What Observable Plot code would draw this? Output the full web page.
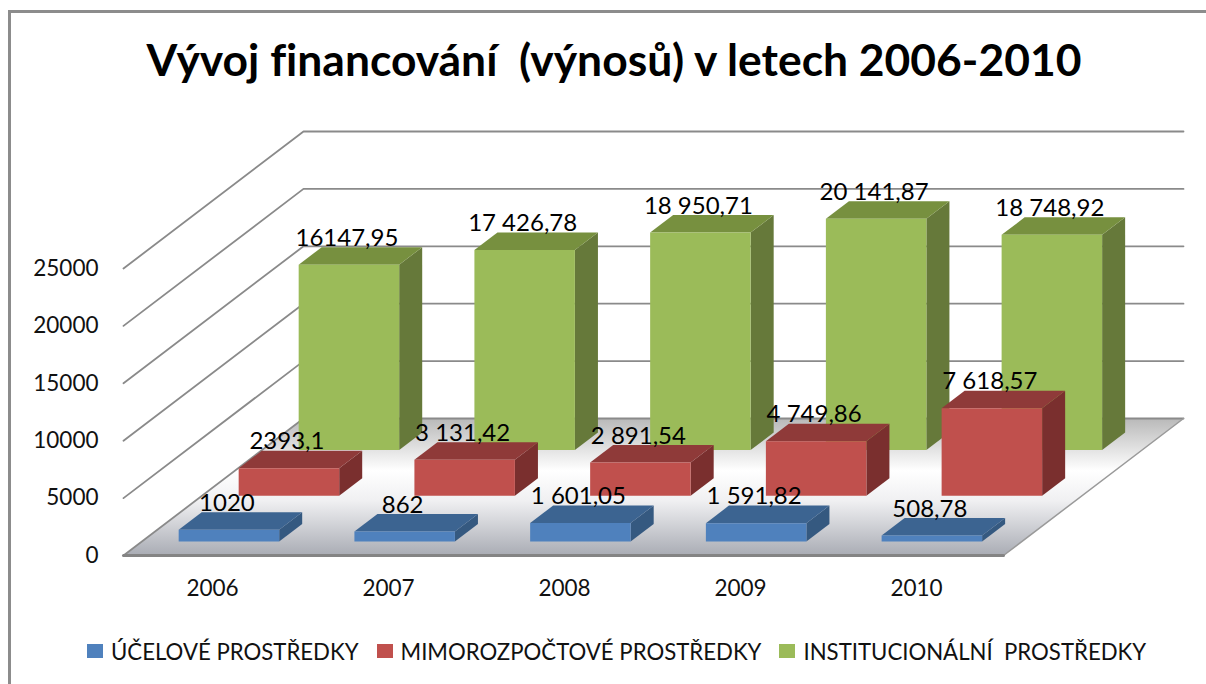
<!DOCTYPE html>
<html lang="cs">
<head>
<meta charset="utf-8">
<script src="https://cdn.jsdelivr.net/npm/d3@7"></script>
<script src="https://cdn.jsdelivr.net/npm/@observablehq/plot@0.6"></script>
<style>
  html, body { margin: 0; padding: 0; background: #fff; overflow: hidden; }
  #page { position: relative; width: 1206px; height: 684px; font-family: Lato, sans-serif; color: #000; overflow: hidden; font-variant-ligatures: none; }
  #frame { position: absolute; left: 8px; top: 10px; right: -4px; bottom: -4px; border: 3px solid #8c8c8c; box-sizing: border-box; pointer-events: none; }
  #title { height: 110px; line-height: 118px; text-align: center; font-size: 44.4px; font-weight: 700; white-space: pre; padding-left: 22px; box-sizing: border-box; }
  #chart svg { display: block; }
  #legend { position: absolute; top: 639px; left: 87px; display: flex; align-items: center; height: 24px; font-size: 22.2px; white-space: pre; color: #111; }
  #legend i { display: inline-block; width: 16px; height: 14px; margin-right: 8px; }
  #legend span { margin-right: 18px; }
</style>
</head>
<body>
<div id="page">
  <div id="title"></div>
  <div id="chart"></div>
  <div id="legend"></div>
  <div id="frame"></div>
</div>
<script>
const titleText = "Vývoj financování  (výnosů) v letech 2006-2010";
const years = ["2006", "2007", "2008", "2009", "2010"];
const seriesNames = ["ÚČELOVÉ PROSTŘEDKY", "MIMOROZPOČTOVÉ PROSTŘEDKY", "INSTITUCIONÁLNÍ  PROSTŘEDKY"];
const ucelove = [1020, 862, 1601.05, 1591.82, 508.78];
const mimorozpoctove = [2393.1, 3131.42, 2891.54, 4749.86, 7618.57];
const institucionalni = [16147.95, 17426.78, 18950.71, 20141.87, 18748.92];
const uceloveLabels = ["1020", "862", "1 601,05", "1 591,82", "508,78"];
const mimorozpoctoveLabels = ["2393,1", "3 131,42", "2 891,54", "4 749,86", "7 618,57"];
const institucionalniLabels = ["16147,95", "17 426,78", "18 950,71", "20 141,87", "18 748,92"];
const yTicks = [0, 5000, 10000, 15000, 20000, 25000];
const frontColors = ["#4f81bd", "#c0504d", "#9bbb59"];
const topColors = ["#3c6491", "#8f3a39", "#77903f"];
const sideColors = ["#355980", "#7a2f2e", "#66793a"];

// Oblique projection: depth 1 (back of the floor) moves right and up in scale units
const depthX = 1.0227, depthY = 11934;
const barWidth = 0.571, barDepth = 0.128, slot = 1 / 3;
const catStep = 0.9985, catShift = -0.006;
const px = (c, d) => c + d * depthX;
const py = (v, d) => v + d * depthY;
const pt = (id, c, v, d) => ({id, x: px(c, d), y: py(v, d)});

const allValues = [ucelove, mimorozpoctove, institucionalni];
const allLabels = [uceloveLabels, mimorozpoctoveLabels, institucionalniLabels];

const front = [], tops = [], sides = [], labels = [];
allValues.forEach((values, s) => {
  const d0 = s * slot + (slot - barDepth) / 2, d1 = d0 + barDepth;
  values.forEach((v, i) => {
    const c0 = i * catStep + catShift + (1 - barWidth) / 2, c1 = c0 + barWidth, k = `${s}-${i}`;
    front.push({s, pts: [pt(k, c0, 0, d0), pt(k, c1, 0, d0), pt(k, c1, v, d0), pt(k, c0, v, d0)]});
    tops.push({s, pts: [pt(k, c0, v, d0), pt(k, c1, v, d0), pt(k, c1, v, d1), pt(k, c0, v, d1)]});
    sides.push({s, pts: [pt(k, c1, 0, d0), pt(k, c1, 0, d1), pt(k, c1, v, d1), pt(k, c1, v, d0)]});
    labels.push({x: px(c0 + barWidth / 2, d0), y: py(v, d1), text: allLabels[s][i]});
  });
});

const face = (rows, colors, s) =>
  Plot.line(rows.filter(r => r.s === s).flatMap(r => r.pts), {
    x: "x", y: "y", z: "id", fill: colors[s], stroke: "none", curve: "linear-closed"
  });

const floor = [pt("f", 0, 0, 0), pt("f", 5, 0, 0), pt("f", 5, 0, 1), pt("f", 0, 0, 1)];
const grid = yTicks.flatMap(t => [pt(t, 0, t, 0), pt(t, 0, t, 1), pt(t, 5, t, 1)]);
const rightEdge = [pt("r", 5, 0, 0), pt("r", 5, 0, 1)];
const frontEdge = [pt("e", 0, 0, 0), pt("e", 5, 0, 0)];

const defs = () => {
  const ns = "http://www.w3.org/2000/svg";
  const d = document.createElementNS(ns, "defs");
  const g = document.createElementNS(ns, "linearGradient");
  g.setAttribute("id", "floorGrad");
  g.setAttribute("x1", 0); g.setAttribute("y1", 0); g.setAttribute("x2", 0); g.setAttribute("y2", 1);
  [[0, "#b9b9b9"], [0.38, "#ffffff"], [0.6, "#f0f0f2"], [1, "#a9acb4"]].forEach(([o, c]) => {
    const st = document.createElementNS(ns, "stop");
    st.setAttribute("offset", o); st.setAttribute("stop-color", c);
    g.appendChild(st);
  });
  d.appendChild(g);
  return d;
};

const marks = [
  defs,
  Plot.line(floor, {x: "x", y: "y", z: "id", fill: "url(#floorGrad)", stroke: "none", curve: "linear-closed"}),
  Plot.line(grid, {x: "x", y: "y", z: "id", stroke: "#8a8a8a", strokeWidth: 1.8}),
  Plot.line(rightEdge, {x: "x", y: "y", stroke: "#9a9a9a", strokeWidth: 1.5}),
  Plot.line(frontEdge, {x: "x", y: "y", stroke: "#848484", strokeWidth: 3})
];
[2, 1, 0].forEach(s => {
  marks.push(face(sides, sideColors, s), face(tops, topColors, s), face(front, frontColors, s));
});
marks.push(
  Plot.text(yTicks, {x: () => 0, y: d => d, text: d => String(d), textAnchor: "end", dx: -25, fontSize: 22.5, fill: "#111"}),
  Plot.text(years, {x: (d, i) => i + 0.5, y: () => 0, text: d => d, dy: 33, dx: 1, fontSize: 22.5, fill: "#111"}),
  Plot.text(labels, {x: "x", y: "y", text: "text", dy: -9, dx: -2, fontSize: 24, fill: "#000"})
);

const svg = Plot.plot({
  width: 1206, height: 515,
  margin: 0,
  style: {background: "transparent", fontFamily: "Lato, sans-serif"},
  x: {type: "linear", domain: [0, 5], range: [123, 1003], axis: null},
  y: {type: "linear", domain: [0, 25000], range: [445, 158], axis: null},
  marks
});

document.getElementById("title").textContent = titleText;
document.getElementById("chart").appendChild(svg);
const legend = document.getElementById("legend");
seriesNames.forEach((name, s) => {
  const sw = document.createElement("i");
  sw.style.background = frontColors[s];
  const t = document.createElement("span");
  t.textContent = name;
  legend.append(sw, t);
});
</script>
</body>
</html>
